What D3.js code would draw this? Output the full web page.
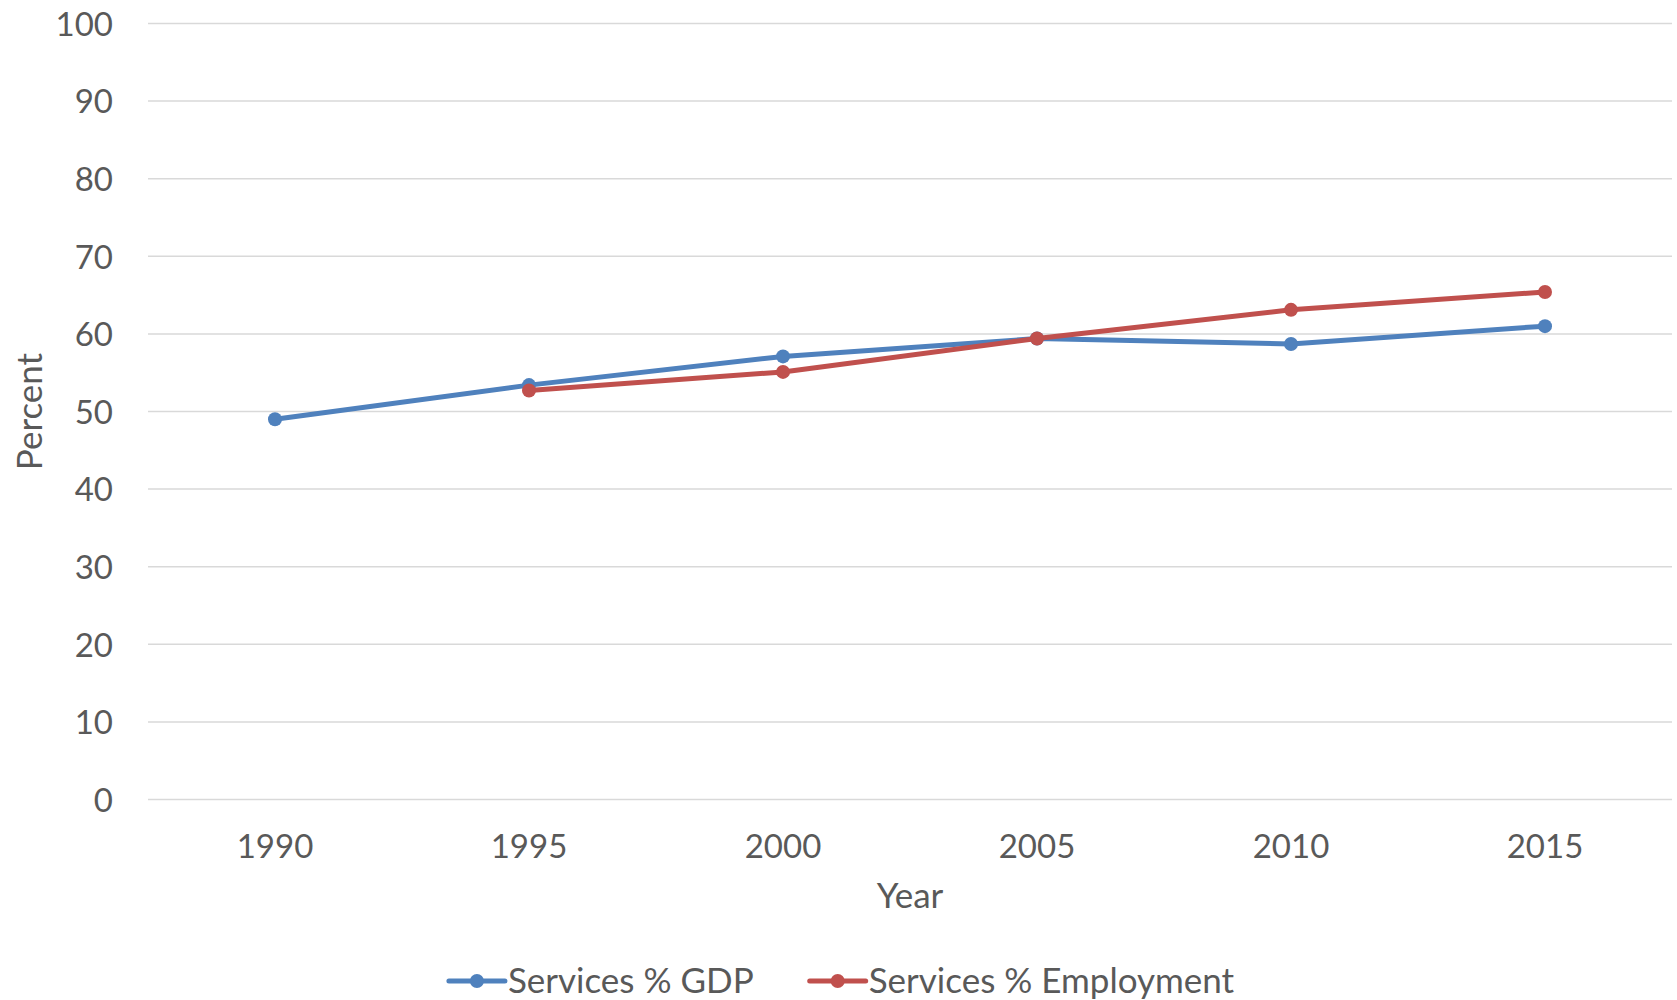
<!DOCTYPE html>
<html>
<head>
<meta charset="utf-8">
<script src="https://cdn.jsdelivr.net/npm/d3@7"></script>
<style>
  html, body { margin: 0; padding: 0; background: #fff; }
  svg { display: block; font-family: Lato, "Open Sans", sans-serif; }
</style>
</head>
<body>
<svg id="chart" width="1677" height="1000"></svg>
<script>
// Years on the category axis
const years = ["1990", "1995", "2000", "2005", "2010", "2015"];
// Services share of GDP (%)
const gdpValues = [49.0, 53.4, 57.1, 59.4, 58.7, 61.0];
// Services share of employment (%), no figure for 1990
const employmentValues = [null, 52.7, 55.1, 59.4, 63.1, 65.4];
// Value axis ticks
const yTicks = [0, 10, 20, 30, 40, 50, 60, 70, 80, 90, 100];

const seriesNames = ["Services % GDP", "Services % Employment"];
const seriesColors = ["#4F81BD", "#C0504D"];
const seriesValues = [gdpValues, employmentValues];

const W = 1677, H = 1000;
const plot = { left: 148, right: 1672, top: 23.5, bottom: 799.5 };
const textColor = "#595959";
const fontSize = 35;
const tickFontSize = 33;
const lineWidth = 5;
const markerR = 7;

const svg = d3.select("#chart");

const x = d3.scaleBand().domain(years).range([plot.left, plot.right]);
const y = d3.scaleLinear().domain([0, 100]).range([plot.bottom, plot.top]);

// Horizontal gridlines
svg.append("g")
  .selectAll("line")
  .data(yTicks)
  .join("line")
  .attr("x1", plot.left).attr("x2", plot.right)
  .attr("y1", d => y(d)).attr("y2", d => y(d))
  .attr("stroke", "#D9D9D9")
  .attr("stroke-width", 1.5);

// Value axis labels
const yAxis = d3.axisLeft(y).tickValues(yTicks).tickSize(0).tickPadding(0);
const gy = svg.append("g")
  .attr("transform", `translate(${plot.left - 35},0)`)
  .call(yAxis);
gy.select(".domain").remove();
gy.selectAll("text")
  .attr("fill", textColor)
  .attr("font-size", tickFontSize)
  .attr("font-family", "Lato, sans-serif")
  .attr("dy", "0.36em");

// Category axis labels
const xAxis = d3.axisBottom(x).tickSize(0).tickPadding(0);
const gx = svg.append("g")
  .attr("transform", `translate(0,${plot.bottom})`)
  .call(xAxis);
gx.select(".domain").remove();
gx.selectAll("text")
  .attr("fill", textColor)
  .attr("font-size", tickFontSize)
  .attr("font-family", "Lato, sans-serif")
  .attr("dy", null)
  .attr("y", 58);

// Axis titles
svg.append("text")
  .attr("x", (plot.left + plot.right) / 2)
  .attr("y", 908)
  .attr("text-anchor", "middle")
  .attr("fill", textColor)
  .attr("font-size", fontSize)
  .text("Year");

svg.append("text")
  .attr("transform", `translate(42,${(plot.top + plot.bottom) / 2}) rotate(-90)`)
  .attr("text-anchor", "middle")
  .attr("fill", textColor)
  .attr("font-size", fontSize)
  .text("Percent");

// Series lines and markers
const line = d3.line()
  .defined(d => d.v != null)
  .x(d => x(d.year) + x.bandwidth() / 2)
  .y(d => y(d.v));

seriesValues.forEach((vals, i) => {
  const pts = years.map((yr, j) => ({ year: yr, v: vals[j] }));
  const g = svg.append("g");
  g.append("path")
    .datum(pts)
    .attr("d", line)
    .attr("fill", "none")
    .attr("stroke", seriesColors[i])
    .attr("stroke-width", lineWidth)
    .attr("stroke-linejoin", "round")
    .attr("stroke-linecap", "round");
  g.selectAll("circle")
    .data(pts.filter(d => d.v != null))
    .join("circle")
    .attr("cx", d => x(d.year) + x.bandwidth() / 2)
    .attr("cy", d => y(d.v))
    .attr("r", markerR)
    .attr("fill", seriesColors[i]);
});

// Legend, centred under the chart
const legend = svg.append("g");
const symW = 56, symGap = 3, itemGap = 56, legendY = 981;
const items = seriesNames.map((name, i) => {
  const g = legend.append("g");
  g.append("line")
    .attr("x1", 0).attr("x2", symW)
    .attr("y1", 0).attr("y2", 0)
    .attr("stroke", seriesColors[i])
    .attr("stroke-width", lineWidth)
    .attr("stroke-linecap", "round");
  g.append("circle")
    .attr("cx", symW / 2).attr("cy", 0).attr("r", markerR)
    .attr("fill", seriesColors[i]);
  const t = g.append("text")
    .attr("x", symW + symGap)
    .attr("y", 0)
    .attr("dy", "0.35em")
    .attr("fill", textColor)
    .attr("font-size", fontSize)
    .text(name);
  return { g, w: symW + symGap + t.node().getComputedTextLength() };
});
const totalW = d3.sum(items, d => d.w) + itemGap * (items.length - 1);
let cx = W / 2 - totalW / 2 + 3;
items.forEach(it => {
  it.g.attr("transform", `translate(${cx},${legendY})`);
  cx += it.w + itemGap;
});
</script>
</body>
</html>
